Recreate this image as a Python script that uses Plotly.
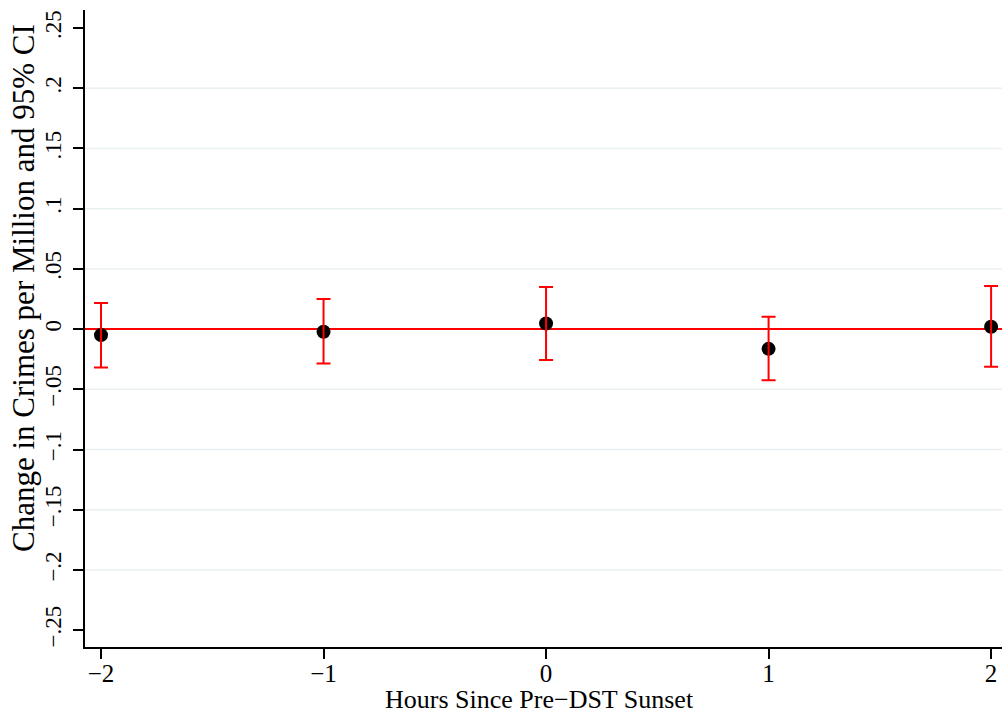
import plotly.graph_objects as go

# Data
hours = [-2, -1, 0, 1, 2]
estimate = [-0.005, -0.0022, 0.0047, -0.0164, 0.0019]
ci_upper = [0.0216, 0.0249, 0.0349, 0.0102, 0.0357]
ci_lower = [-0.0318, -0.0285, -0.0257, -0.0424, -0.0313]

y_tickvals = [-0.25, -0.2, -0.15, -0.1, -0.05, 0, 0.05, 0.1, 0.15, 0.2, 0.25]
y_ticktext = ["\u2212.25", "\u2212.2", "\u2212.15", "\u2212.1", "\u2212.05", "0",
              ".05", ".1", ".15", ".2", ".25"]
x_tickvals = [-2, -1, 0, 1, 2]
x_ticktext = ["\u22122", "\u22121", "0", "1", "2"]
grid_vals = [-0.2, -0.15, -0.1, -0.05, 0.05, 0.1, 0.15, 0.2]

FONT = "Liberation Serif"

fig = go.Figure()

# point estimates
fig.add_trace(go.Scatter(
    x=hours, y=estimate, mode="markers",
    marker=dict(color="black", size=14),
    showlegend=False, hoverinfo="skip",
))
# CI bars drawn on top of markers
fig.add_trace(go.Scatter(
    x=hours, y=estimate, mode="markers",
    marker=dict(color="rgba(0,0,0,0)", size=1),
    error_y=dict(
        type="data", symmetric=False,
        array=[u - e for u, e in zip(ci_upper, estimate)],
        arrayminus=[e - l for e, l in zip(estimate, ci_lower)],
        color="#ff0000", thickness=2, width=7,
    ),
    showlegend=False, hoverinfo="skip",
))

shapes = []
for g in grid_vals:
    shapes.append(dict(type="line", xref="paper", x0=0, x1=1, yref="y", y0=g, y1=g,
                       line=dict(color="#e8f0f1", width=1.5), layer="below"))
shapes.append(dict(type="line", xref="paper", x0=0, x1=1, yref="y", y0=0, y1=0,
                   line=dict(color="#ff0000", width=2), layer="below"))

fig.update_layout(
    width=1002, height=717,
    margin=dict(l=85, r=0, t=10, b=70),
    paper_bgcolor="white", plot_bgcolor="white",
    font=dict(family=FONT, color="black"),
    shapes=shapes,
    xaxis=dict(
        range=[-2.072, 2.049],
        tickvals=x_tickvals, ticktext=x_ticktext,
        tickfont=dict(size=25, family=FONT),
        ticks="outside", ticklen=10, tickwidth=1.5, tickcolor="black",
        ticklabelstandoff=-7,
        showline=True, linecolor="black", linewidth=1.5,
        showgrid=False, zeroline=False,
    ),
    yaxis=dict(
        range=[-0.264, 0.265],
        tickvals=y_tickvals, ticktext=y_ticktext,
        tickangle=-90,
        tickfont=dict(size=23, family=FONT),
        ticks="outside", ticklen=10, tickwidth=1.5, tickcolor="black",
        ticklabelstandoff=3,
        showline=True, linecolor="black", linewidth=1.5,
        showgrid=False, zeroline=False,
    ),
    annotations=[
        dict(
            text="Change in Crimes per Million and 95% CI",
            xref="paper", yref="paper", x=0, y=0.5636,
            xanchor="center", yanchor="middle", xshift=-61,
            textangle=-90, showarrow=False,
            font=dict(size=31, family=FONT, color="black"),
        ),
        dict(
            text="Hours Since Pre\u2212DST Sunset",
            xref="paper", yref="paper", x=0.4956, y=0,
            xanchor="center", yanchor="bottom", yshift=-69,
            showarrow=False,
            font=dict(size=26, family=FONT, color="black"),
        ),
    ],
)

fig.write_html("out.html")
